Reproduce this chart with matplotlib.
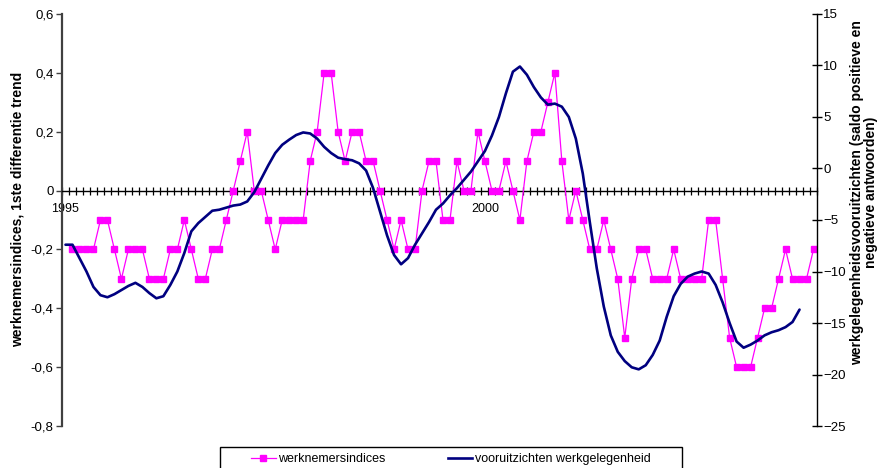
import numpy as np
import matplotlib
matplotlib.use('Agg')
import matplotlib.pyplot as plt
from matplotlib.ticker import FuncFormatter, MultipleLocator
from matplotlib.patches import Rectangle
from matplotlib.lines import Line2D

plt.rcParams['font.family'] = ['Liberation Sans', 'DejaVu Sans']

# Monthly observations, January 1995 (index 0) onwards
year_labels = ['1995', '2000']
year_positions = [0, 60]

werknemersindices = [
    np.nan, -0.2, -0.2, -0.2, -0.2, -0.1, -0.1, -0.2, -0.3, -0.2, -0.2, -0.2,
    -0.3, -0.3, -0.3, -0.2, -0.2, -0.1, -0.2, -0.3, -0.3, -0.2, -0.2, -0.1,
    0.0, 0.1, 0.2, 0.0, 0.0, -0.1, -0.2, -0.1, -0.1, -0.1, -0.1, 0.1,
    0.2, 0.4, 0.4, 0.2, 0.1, 0.2, 0.2, 0.1, 0.1, 0.0, -0.1, -0.2,
    -0.1, -0.2, -0.2, 0.0, 0.1, 0.1, -0.1, -0.1, 0.1, 0.0, 0.0, 0.2,
    0.1, 0.0, 0.0, 0.1, 0.0, -0.1, 0.1, 0.2, 0.2, 0.3, 0.4, 0.1,
    -0.1, 0.0, -0.1, -0.2, -0.2, -0.1, -0.2, -0.3, -0.5, -0.3, -0.2, -0.2,
    -0.3, -0.3, -0.3, -0.2, -0.3, -0.3, -0.3, -0.3, -0.1, -0.1, -0.3, -0.5,
    -0.6, -0.6, -0.6, -0.5, -0.4, -0.4, -0.3, -0.2, -0.3, -0.3, -0.3, -0.2,
]

vooruitzichten = [
    -7.4, -7.4, -8.7, -10.0, -11.5, -12.3, -12.5, -12.2, -11.8, -11.4, -11.1, -11.5,
    -12.1, -12.6, -12.4, -11.3, -10.0, -8.2, -6.1, -5.3, -4.7, -4.1, -4.0, -3.8,
    -3.6, -3.5, -3.2, -2.3, -1.0, 0.3, 1.5, 2.3, 2.8, 3.25, 3.5, 3.4,
    2.9, 2.1, 1.5, 1.05, 0.9, 0.8, 0.5, -0.2, -1.9, -4.2, -6.5, -8.4,
    -9.3, -8.7, -7.4, -6.3, -5.2, -4.0, -3.4, -2.6, -1.9, -1.1, -0.3, 0.7,
    1.7, 3.2, 5.0, 7.3, 9.4, 9.9, 9.1, 7.9, 6.9, 6.2, 6.3, 6.0,
    5.0, 2.9, -0.5, -5.2, -9.7, -13.4, -16.2, -17.8, -18.7, -19.3, -19.5, -19.1,
    -18.1, -16.7, -14.4, -12.4, -11.2, -10.5, -10.2, -10.0, -10.2, -11.3, -13.0, -15.0,
    -16.8, -17.4, -17.1, -16.7, -16.2, -15.9, -15.7, -15.4, -14.9, -13.7,
]

n_months = len(werknemersindices)
x_werk = np.arange(n_months)
x_voor = np.arange(len(vooruitzichten))

PINK = '#FF00FF'
NAVY = '#000080'

fig = plt.figure(figsize=(8.79, 4.68), dpi=100)
ax = fig.add_axes([62 / 879, 42 / 468, 755 / 879, 412 / 468])

ax.plot(x_werk, werknemersindices, color=PINK, lw=0.9, marker='s', ms=4.6,
        mec=PINK, mfc=PINK, zorder=3)

ax.set_xlim(-0.5, n_months - 0.5)
ax.set_ylim(-0.8, 0.6)
ax.yaxis.set_major_locator(MultipleLocator(0.2))


def comma_fmt(v, pos):
    if abs(v) < 1e-9:
        return '0'
    return ('%.1f' % v).replace('.', ',')


ax.yaxis.set_major_formatter(FuncFormatter(comma_fmt))
ax.tick_params(axis='y', direction='out', length=4, width=1, labelsize=9.5,
               pad=2, color='#404040')

# category axis drawn through zero, ticks between months
ax.spines['bottom'].set_position(('data', 0))
ax.spines['bottom'].set_linewidth(1.0)
ax.spines['top'].set_visible(False)
ax.spines['right'].set_visible(False)
ax.spines['left'].set_color('#404040')
ax.spines['left'].set_linewidth(1.6)
ax.set_xticks(year_positions)
ax.set_xticklabels(year_labels)
ax.set_xticks(np.arange(-0.5, n_months, 1.0), minor=True)
ax.tick_params(axis='x', which='major', length=0, pad=9, labelsize=9)
ax.tick_params(axis='x', which='minor', direction='inout', length=5.5, width=0.9)

ax.set_ylabel('werknemersindices, 1ste differentie trend', fontsize=10,
              fontweight='bold')
ax.yaxis.set_label_coords(-0.049, 0.527)

ax2 = ax.twinx()
ax2.plot(x_voor, vooruitzichten, color=NAVY, lw=1.9, solid_joinstyle='round',
         solid_capstyle='round')
ax2.set_ylim(-25, 15)
ax2.yaxis.set_major_locator(MultipleLocator(5))
ax2.tick_params(axis='y', direction='inout', length=7, width=1, labelsize=9.5,
                pad=1)
for side in ('top', 'bottom', 'left'):
    ax2.spines[side].set_visible(False)
ax2.spines['right'].set_linewidth(1.0)
ax2.set_ylabel('werkgelegenheidsvooruitzichten (saldo positieve en\n'
               'negatieve antwoorden)', fontsize=10, fontweight='bold',
               linespacing=1.0)
ax2.yaxis.set_label_coords(1.0437, 0.567)

# legend box along the bottom edge
fig.patches.append(Rectangle((220 / 879, -0.02), 462 / 879, 0.02 + 21 / 468,
                             transform=fig.transFigure, fill=False,
                             edgecolor='black', lw=1.0))
handles = [
    Line2D([], [], color=PINK, lw=0.9, marker='s', ms=4.6, mec=PINK, mfc=PINK),
    Line2D([], [], color=NAVY, lw=1.9),
]
fig.legend(handles, ['werknemersindices', 'vooruitzichten werkgelegenheid'],
           loc='center', bbox_to_anchor=(451 / 879, 9 / 468), ncol=2,
           frameon=False, fontsize=9, handlelength=1.95, handletextpad=0.2,
           columnspacing=5.0, borderpad=0, borderaxespad=0)

fig.savefig('out.png', dpi=100)
